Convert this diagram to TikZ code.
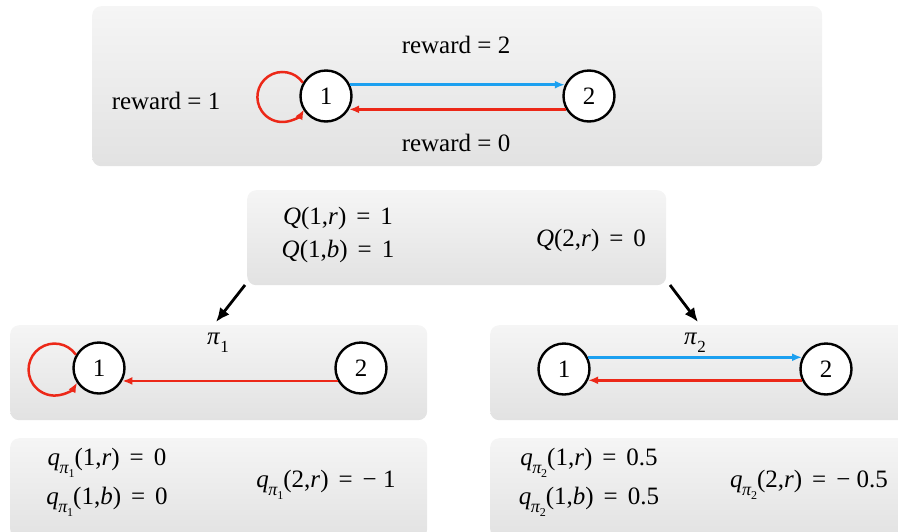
\documentclass[tikz,border=0pt]{standalone}
\usepackage{fontspec}
\setmainfont{Liberation Serif}
\usetikzlibrary{arrows.meta}
\definecolor{myblue}{RGB}{28,160,240}
\definecolor{myred}{RGB}{236,40,24}
\definecolor{panelT}{RGB}{245,245,245}
\definecolor{panelB}{RGB}{226,226,226}
\newcommand{\vi}[1]{\textit{#1}}
\newcommand{\eq}{\hspace{0.4em}=\hspace{0.4em}}
\newcommand{\sbx}[1]{\raisebox{-0.3em}{\fontsize{17}{17}\selectfont #1}}
\newcommand{\qpi}[1]{\vi{q}\kern-0.5pt\raisebox{-0.32em}{\fontsize{18}{18}\selectfont\vi{π}\kern-0.5pt\raisebox{-0.22em}{\fontsize{12}{12}\selectfont #1}}}
\begin{document}
\begin{tikzpicture}[x=1pt,y=-1pt,
  every node/.style={font=\fontsize{25}{30}\selectfont},
  panel/.style={rounded corners=9pt, top color=panelT, bottom color=panelB, draw=none, anchor=north west, inner sep=0pt},
  state/.style={circle, draw=black, line width=2.4pt, fill=white, minimum size=51pt, inner sep=0pt},
  bluearr/.style={draw=myblue, line width=2.5pt, -{Latex[length=10pt,width=8pt]}},
  redarr/.style={draw=myred, line width=2.5pt, -{Latex[length=10pt,width=8pt]}},
  blackarr/.style={draw=black, line width=2.8pt, -{Latex[length=14pt,width=12pt]}}]
\useasboundingbox (0,0) rectangle (898,531);
% panels
\node[panel, minimum width=730pt, minimum height=160pt] (top) at (92,6) {};
\node[panel, minimum width=419pt, minimum height=95pt] (mid) at (247,190) {};
\node[panel, minimum width=417pt, minimum height=95pt] (blt) at (10,325) {};
\node[panel, minimum width=417pt, minimum height=100pt] (blb) at (10,438) {};
\node[panel, minimum width=420pt, minimum height=95pt] (brt) at (490,325) {};
\node[panel, minimum width=420pt, minimum height=100pt] (brb) at (490,438) {};
% top graph
\node[state] (t1) at (326,96) {1};
\node[state] (t2) at (589,96) {2};
\draw[bluearr] (t1.25) -- (t2.155);
\draw[redarr] (t2.210) -- (t1.330);
\draw[redarr] (t1.150) arc[start angle=35, end angle=330, radius=25pt];
\node (r2) at (456,45) {reward = 2};
\node (r0) at (456,143) {reward = 0};
\node (r1) at (166,101) {reward = 1};
% middle
\node (q1r) at (338,218) {\vi{Q}(1,\vi{r})\eq1};
\node (q1b) at (338,251) {\vi{Q}(1,\vi{b})\eq1};
\node (q2r) at (591,240) {\vi{Q}(2,\vi{r})\eq0};
\coordinate (aL) at (216,322);
\coordinate (aR) at (698,322);
\coordinate (sL) at (245,285);
\coordinate (sR) at (670,285);
\draw[blackarr] (sL) -- (aL);
\draw[blackarr] (sR) -- (aR);
% policy 1
\node (pi1) at (218,343) {\vi{π}\sbx{1}};
\node[state] (n1) at (99,368) {1};
\node[state] (n2) at (361,368) {2};
\draw[redarr] (n2.209) -- (n1.331);
\draw[redarr] (n1.150) arc[start angle=35, end angle=330, radius=26pt];
% policy 2
\node (pi2) at (695,343) {\vi{π}\sbx{2}};
\node[state] (m1) at (564,369) {1};
\node[state] (m2) at (826,369) {2};
\draw[bluearr] (m1.26) -- (m2.154);
\draw[redarr] (m2.205) -- (m1.335);
% values
\node (a1) at (107,463) {\qpi{1}(1,\vi{r})\eq0};
\node (a2) at (107,502) {\qpi{1}(1,\vi{b})\eq0};
\node (a3) at (326,485) {\qpi{1}(2,\vi{r})\eq− 1};
\node (b1) at (589,463) {\qpi{2}(1,\vi{r})\eq0.5};
\node (b2) at (589,502) {\qpi{2}(1,\vi{b})\eq0.5};
\node (b3) at (809,485) {\qpi{2}(2,\vi{r})\eq− 0.5};
\end{tikzpicture}
\end{document}
